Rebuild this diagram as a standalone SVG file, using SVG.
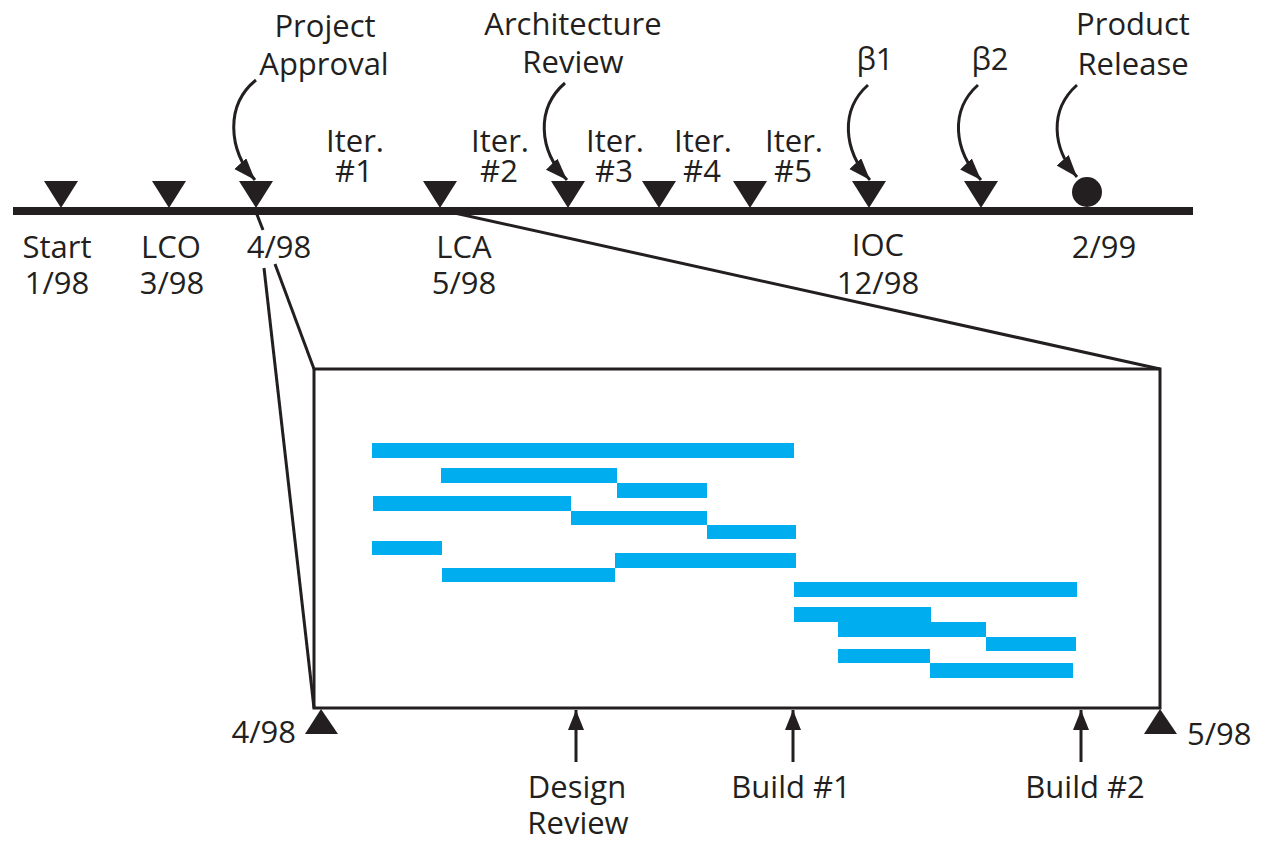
<svg xmlns="http://www.w3.org/2000/svg" width="1271" height="841" viewBox="0 0 1271 841">
  <style>
    .lbl { font-family: "Open Sans", "Liberation Sans", sans-serif; font-size: 31px; fill: #231f20; text-anchor: middle; }
    .lbl-l { font-family: "Open Sans", "Liberation Sans", sans-serif; font-size: 31px; fill: #231f20; text-anchor: start; }
    .lbl-r { font-family: "Open Sans", "Liberation Sans", sans-serif; font-size: 31px; fill: #231f20; text-anchor: end; }
    .mark { fill: #231f20; }
    .curve { fill: none; stroke: #231f20; stroke-width: 3; }
    .thin { fill: none; stroke: #231f20; stroke-width: 3; }
    .bar { fill: #00aeef; }
  </style>
  <defs>
    <marker id="head" markerUnits="userSpaceOnUse" markerWidth="24" markerHeight="18" refX="22" refY="8" orient="auto">
      <path d="M0,0 L22,8 L0,16 z" fill="#231f20"/>
    </marker>
    <marker id="headSm" markerUnits="userSpaceOnUse" markerWidth="22" markerHeight="18" refX="20" refY="8" orient="auto">
      <path d="M0,0 L20,8 L0,16 z" fill="#231f20"/>
    </marker>
  </defs>

  <!-- main schedule line -->
  <g id="timeline">
    <line x1="13" y1="211" x2="1193" y2="211" stroke="#231f20" stroke-width="8"/>
  </g>

  <!-- zoom connectors and callout arrows -->
  <g id="connectors">
    <!-- from the 4/98 milestone to the left side of the detail box -->
    <line class="thin" x1="256" y1="212" x2="263" y2="230"/>
    <line class="thin" x1="275" y1="264" x2="314" y2="369"/>
    <line class="thin" x1="264" y1="268" x2="314" y2="708"/>
    <!-- from LCA to the top-right corner of the detail box -->
    <line class="thin" x1="450" y1="212" x2="1160" y2="369"/>
    <!-- curved callouts -->
    <path class="curve" d="M256,80 C225,105 228,150 255,180" marker-end="url(#head)"/>
    <path class="curve" d="M565,83 C536,108 538,150 567,180" marker-end="url(#head)"/>
    <path class="curve" d="M868,85 C840,110 843,150 870,180" marker-end="url(#head)"/>
    <path class="curve" d="M978,85 C950,110 953,150 981,180" marker-end="url(#head)"/>
    <path class="curve" d="M1077,85 C1049,110 1052,148 1077,177" marker-end="url(#head)"/>
    <!-- review / build pointers under the detail box -->
    <line class="thin" x1="576" y1="762" x2="576" y2="710" marker-end="url(#headSm)"/>
    <line class="thin" x1="793" y1="762" x2="793" y2="710" marker-end="url(#headSm)"/>
    <line class="thin" x1="1081" y1="762" x2="1081" y2="710" marker-end="url(#headSm)"/>
  </g>

  <!-- milestones on the main line -->
  <g id="m-start">
    <polygon class="mark" points="44,181 78,181 61,208"/>
    <text class="lbl" x="57" y="258">Start</text>
    <text class="lbl" x="57" y="294">1/98</text>
  </g>
  <g id="m-lco">
    <polygon class="mark" points="152,181 186,181 169,208"/>
    <text class="lbl" x="171" y="258">LCO</text>
    <text class="lbl" x="172" y="294">3/98</text>
  </g>
  <g id="m-approval">
    <polygon class="mark" points="239,181 273,181 256,208"/>
    <text class="lbl" x="325" y="37">Project</text>
    <text class="lbl" x="324" y="75">Approval</text>
    <text class="lbl" x="279" y="258">4/98</text>
  </g>
  <g id="m-lca">
    <polygon class="mark" points="423,181 457,181 440,208"/>
    <text class="lbl" x="464" y="258">LCA</text>
    <text class="lbl" x="464" y="294">5/98</text>
  </g>
  <g id="m-arch">
    <polygon class="mark" points="551,181 585,181 568,208"/>
    <text class="lbl" x="573" y="35">Architecture</text>
    <text class="lbl" x="573" y="73">Review</text>
  </g>
  <g id="m-it4">
    <polygon class="mark" points="642,181 676,181 659,208"/>
  </g>
  <g id="m-it5">
    <polygon class="mark" points="733,181 767,181 750,208"/>
  </g>
  <g id="m-ioc">
    <polygon class="mark" points="852,181 886,181 869,208"/>
    <text class="lbl" x="875" y="70">β1</text>
    <text class="lbl" x="878" y="256">IOC</text>
    <text class="lbl" x="878" y="294">12/98</text>
  </g>
  <g id="m-beta2">
    <polygon class="mark" points="964,181 998,181 981,208"/>
    <text class="lbl" x="990" y="70">β2</text>
  </g>
  <g id="m-release">
    <circle class="mark" cx="1087" cy="192" r="15"/>
    <text class="lbl" x="1133" y="35">Product</text>
    <text class="lbl" x="1133" y="75">Release</text>
    <text class="lbl" x="1104" y="258">2/99</text>
  </g>

  <!-- iteration labels -->
  <g id="iterations">
    <text class="lbl" x="355" y="152">Iter.</text>
    <text class="lbl" x="354" y="182">#1</text>
    <text class="lbl" x="500" y="152">Iter.</text>
    <text class="lbl" x="499" y="182">#2</text>
    <text class="lbl" x="615" y="152">Iter.</text>
    <text class="lbl" x="614" y="182">#3</text>
    <text class="lbl" x="703" y="152">Iter.</text>
    <text class="lbl" x="702" y="182">#4</text>
    <text class="lbl" x="794" y="152">Iter.</text>
    <text class="lbl" x="793" y="182">#5</text>
  </g>

  <!-- detail box: the 4/98 to 5/98 iteration plan -->
  <g id="detail">
    <rect x="314" y="369" width="846" height="339" fill="none" stroke="#231f20" stroke-width="3"/>
    <g id="tasks">
      <rect class="bar" x="372" y="443" width="422" height="15"/>
      <rect class="bar" x="441" y="468" width="176" height="15"/>
      <rect class="bar" x="617" y="483" width="90" height="15"/>
      <rect class="bar" x="373" y="496" width="198" height="15"/>
      <rect class="bar" x="571" y="511" width="136" height="14"/>
      <rect class="bar" x="707" y="525" width="89" height="14"/>
      <rect class="bar" x="372" y="541" width="70" height="14"/>
      <rect class="bar" x="615" y="553" width="181" height="15"/>
      <rect class="bar" x="442" y="568" width="173" height="14"/>
      <rect class="bar" x="794" y="582" width="283" height="15"/>
      <rect class="bar" x="794" y="607" width="137" height="15"/>
      <rect class="bar" x="838" y="622" width="148" height="15"/>
      <rect class="bar" x="986" y="637" width="90" height="14"/>
      <rect class="bar" x="838" y="649" width="92" height="14"/>
      <rect class="bar" x="930" y="663" width="143" height="15"/>
    </g>
  </g>

  <g id="d-start">
    <polygon class="mark" points="305,734 338,734 321,709"/>
    <text class="lbl-r" x="296" y="743">4/98</text>
  </g>
  <g id="d-end">
    <polygon class="mark" points="1144,734 1177,734 1160,709"/>
    <text class="lbl-l" x="1187" y="745">5/98</text>
  </g>
  <g id="d-design">
    <text class="lbl" x="577" y="798">Design</text>
    <text class="lbl" x="578" y="834">Review</text>
  </g>
  <g id="d-build1">
    <text class="lbl" x="791" y="798">Build #1</text>
  </g>
  <g id="d-build2">
    <text class="lbl" x="1085" y="798">Build #2</text>
  </g>
</svg>
